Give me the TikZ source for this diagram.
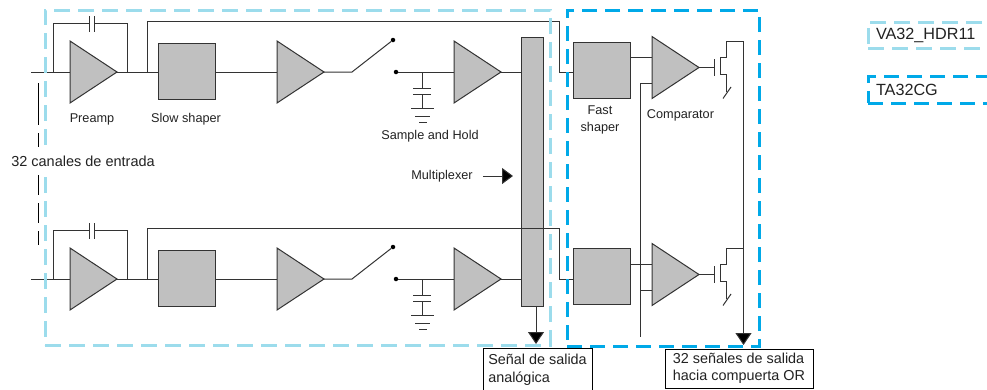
\documentclass[tikz,border=0pt]{standalone}
\usepackage{fontspec}
\setmainfont{Liberation Sans}
\usetikzlibrary{shapes.geometric, arrows.meta, positioning, calc}
\definecolor{wirecol}{HTML}{333333}
\definecolor{blockcol}{HTML}{C0C0C0}
\definecolor{vacol}{HTML}{9CDCEC}
\definecolor{tacol}{HTML}{00A9E8}
\definecolor{textcol}{HTML}{222222}
\tikzset{
  amp/.style={isosceles triangle, isosceles triangle stretches, shape border rotate=0, minimum width=62pt, minimum height=47pt, inner sep=0pt, outer sep=0pt, draw=wirecol, fill=blockcol, line width=1pt},
  shaperbox/.style={rectangle, minimum width=57pt, minimum height=56pt, inner sep=0pt, outer sep=0pt, draw=wirecol, fill=blockcol, line width=1pt},
  muxbox/.style={rectangle, minimum width=22pt, minimum height=269pt, inner sep=0pt, outer sep=0pt, draw=wirecol, fill=blockcol, line width=1pt},
  dot/.style={circle, minimum size=4.5pt, inner sep=0pt, fill=black},
  wire/.style={draw=wirecol, line width=1pt},
  sigarrow/.style={draw=wirecol, line width=1pt, -{Triangle[width=16pt,length=12pt,fill=black]}, shorten >=4pt},
  lbl/.style={font=\fontsize{12.7}{17}\selectfont, text=textcol, align=center, inner sep=0pt},
  outbox/.style={rectangle, draw=black, line width=1pt, fill=white, font=\fontsize{14.4}{17.5}\selectfont, text=textcol, align=left, inner sep=0pt, outer sep=0pt},
  frameva/.style={rectangle, draw=vacol, line width=3pt, dash pattern=on 16pt off 8pt, inner sep=0pt, outer sep=0pt},
  frameta/.style={rectangle, draw=tacol, line width=3pt, dash pattern=on 15pt off 8pt, inner sep=0pt, outer sep=0pt},
  legendtext/.style={font=\fontsize{16.2}{19}\selectfont, text=textcol, inner sep=0pt, minimum height=26pt}
}
\begin{document}
\begin{tikzpicture}[x=1pt,y=-1pt]
        \path[use as bounding box] (0,0) rectangle (987,389);
        \clip (0,0) rectangle (987,389);

        % Nodes, upper channel
        \node (preampA) [amp, anchor=west] at (70,72) {};
        \node (slowA) [shaperbox, right=41pt of preampA, yshift=1pt] {};
        \node (ampA) [amp, right=62pt of slowA, yshift=-1pt] {};
        \node (holdA) [amp, anchor=west] at (454,72) {};
        \node (fastA) [shaperbox, anchor=west] at (573,70) {};
        \node (cmpA) [amp, anchor=west] at (652,67.5) {};

        % Nodes, lower channel
        \node (preampB) [amp, anchor=west] at (70,279) {};
        \node (slowB) [shaperbox, right=41pt of preampB, yshift=1pt] {};
        \node (ampB) [amp, right=62pt of slowB, yshift=-1pt] {};
        \node (holdB) [amp, anchor=west] at (454,279) {};
        \node (fastB) [shaperbox, anchor=west] at (573,276.5) {};
        \node (cmpB) [amp, anchor=west] at (652,274.5) {};

        \node (mux) [muxbox] at (532,171.5) {};
        \node (dotTopA) [dot] at (393,40) {};
        \node (dotInA) [dot] at (396,72) {};
        \node (dotTopB) [dot] at (393,247) {};
        \node (dotInB) [dot] at (396,279) {};

        % Free ends
        \coordinate (inA) at (31,72);
        \coordinate (inB) at (31,279);
        \coordinate (swA) at (352,72);
        \coordinate (swB) at (352,279);
        \coordinate (capA) at (422,72);
        \coordinate (capB) at (422,279);
        \coordinate (gateA) at (714,67.5);
        \coordinate (gateB) at (714,274.5);
        \coordinate (drainA) at (743.5,41);
        \coordinate (drainB) at (743.5,248);

        % Output boxes
        \node (lblAna) [outbox, minimum width=109pt, minimum height=44pt] at (537.5,370) {Señal de salida\\analógica};
        \node (lblDig) [outbox, minimum width=148pt, minimum height=39pt] at (739,368.5) {32 señales de salida\\hacia compuerta OR};

        % Upper channel paths
        \draw [wire] (inA) -- (preampA.west);
        \draw [wire] (53,72) |- (90,23);
        \draw [wire] (94,23) -| (127,72);
        \draw [wire] (89,16) -- (89,32);
        \draw [wire] (94,16) -- (94,32);
        \draw [wire] (preampA.east) -- (slowA.west |- preampA.east);
        \draw [wire] (slowA.east |- ampA.west) -- (ampA.west);
        \draw [wire] (ampA.east) -- (swA) -- (dotTopA);
        \draw [wire] (dotInA) -- (holdA.west);
        \draw [wire] (holdA.east) -- (mux.west |- holdA.east);
        \draw [wire] (147,72) |- (559,21) -- (559,72) -- (fastA.west |- 559,72);
        \draw [wire] (capA) -- ++(0,16.5);
        \draw [wire] (capA) ++(-9,16.5) -- ++(18,0);
        \draw [wire] (capA) ++(-9,22.5) -- ++(18,0);
        \draw [wire] (capA) ++(0,22.5) -- ++(0,14);
        \draw [wire] (capA) ++(-11,36.5) -- ++(23,0);
        \draw [wire] (capA) ++(-7,44) -- ++(15,0);
        \draw [wire] (capA) ++(-3,50) -- ++(8,0);

        % Lower channel paths
        \draw [wire] (inB) -- (preampB.west);
        \draw [wire] (53,279) |- (90,230);
        \draw [wire] (94,230) -| (127,279);
        \draw [wire] (89,223) -- (89,239);
        \draw [wire] (94,223) -- (94,239);
        \draw [wire] (preampB.east) -- (slowB.west |- preampB.east);
        \draw [wire] (slowB.east |- ampB.west) -- (ampB.west);
        \draw [wire] (ampB.east) -- (swB) -- (dotTopB);
        \draw [wire] (dotInB) -- (holdB.west);
        \draw [wire] (holdB.east) -- (mux.west |- holdB.east);
        \draw [wire] (147,279) |- (559,228) -- (559,279) -- (fastB.west |- 559,279);
        \draw [wire] (capB) -- ++(0,16.5);
        \draw [wire] (capB) ++(-9,16.5) -- ++(18,0);
        \draw [wire] (capB) ++(-9,22.5) -- ++(18,0);
        \draw [wire] (capB) ++(0,22.5) -- ++(0,14);
        \draw [wire] (capB) ++(-11,36.5) -- ++(23,0);
        \draw [wire] (capB) ++(-7,44) -- ++(15,0);
        \draw [wire] (capB) ++(-3,50) -- ++(8,0);

        % Comparator paths
        \draw [wire] (fastA.east |- 640,57) -- (cmpA.west |- 640,57);
        \draw [wire] (fastB.east |- 640,264) -- (cmpB.west |- 640,264);
        \draw [wire] (cmpA.west |- 640,83) -| (640,337);
        \draw [wire] (640,290) -- (cmpB.west |- 640,290);

        % Transistors
        \draw [wire] (cmpA.east) -- (gateA);
        \draw [wire] (gateA) ++(0,-8.5) -- ++(0,16.5);
        \draw [wire] (drainA) -- (726,41) |- (720,57.5) -- (720,74.5) -| (726,92);
        \draw [wire] (723,98.5) -- (731,87);
        \draw [wire] (cmpB.east) -- (gateB);
        \draw [wire] (gateB) ++(0,-8.5) -- ++(0,16.5);
        \draw [wire] (drainB) -- (726,248) |- (720,264.5) -- (720,281.5) -| (726,299);
        \draw [wire] (723,305.5) -- (731,294);

        % Frames
        \node (frameVA) [frameva, minimum width=505pt, minimum height=335pt] at (297.5,177.5) {};
        \node (frameTA) [frameta, minimum width=192pt, minimum height=336pt] at (663,178) {};

        % Output arrows
        \draw [sigarrow] (mux.south -| 536,0) -- (lblAna.north -| 536,0);
        \draw [sigarrow] (drainA) -- (drainA |- lblDig.north);

        % Input bracket
        \draw [draw=black, line width=1pt, dash pattern=on 42pt off 8pt on 62pt off 8pt on 20pt off 8pt on 14pt off 8pt] (38,83) -- (38,245);

        % Labels
        \node (lblPreamp) [lbl] at (92,119) {Preamp};
        \node (lblSlow) [lbl] at (186,119) {Slow shaper};
        \node (lblSample) [lbl] at (430,136) {Sample and Hold};
        \node (lblMux) [lbl] at (442,176) {Multiplexer};
        \node (lblFast) [lbl] at (600,119.5) {Fast\\shaper};
        \node (lblCmp) [lbl] at (680.5,115) {Comparator};
        \node (lblIn) [font=\fontsize{14.5}{17}\selectfont, text=textcol, fill=white, inner sep=0pt, minimum height=28pt] at (83,161) {32 canales de entrada};
        \draw [wire, -{Triangle[width=16pt,length=11pt,fill=black]}, shorten >=8pt] (lblMux.east) ++(10,0) -- (mux.west |- lblMux.east);

        % Legend
        \node (keyVA) [frameva, legendtext, anchor=west, align=left, text width=124pt, minimum width=140pt] at (868,35) {VA32\_HDR11};
        \node (keyTA) [frameta, legendtext, anchor=west, align=left, text width=124pt, minimum width=140pt, minimum height=27pt] at (868,89.5) {TA32CG};
        \end{tikzpicture}
\end{document}
